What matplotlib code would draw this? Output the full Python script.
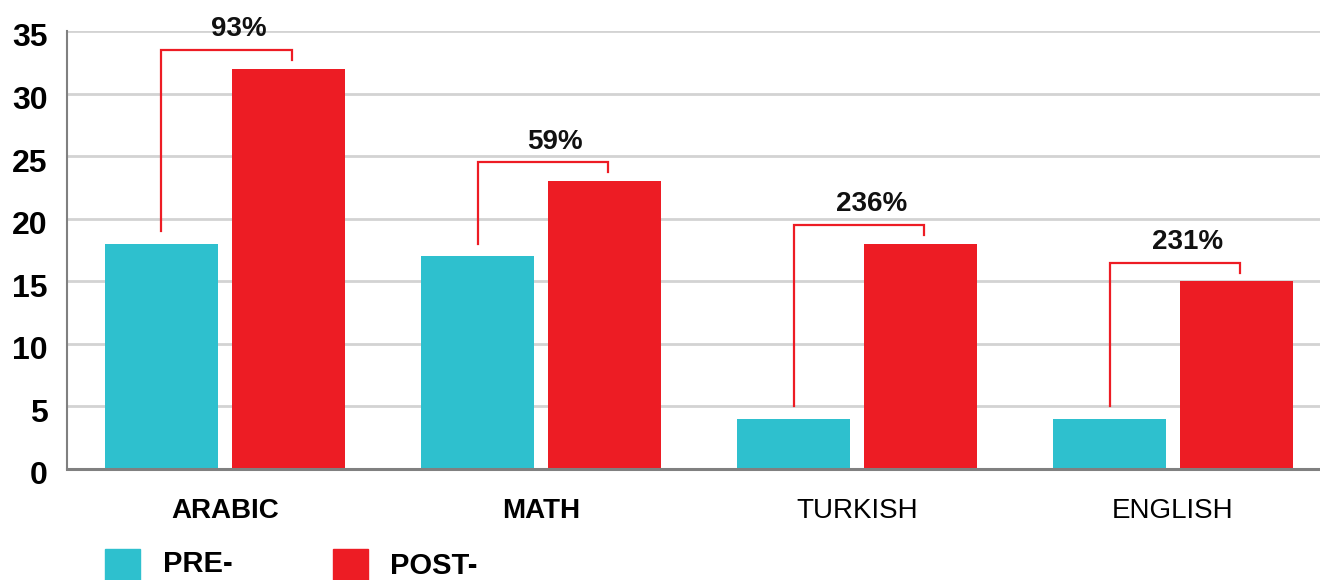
import matplotlib
matplotlib.use("Agg")
import matplotlib.pyplot as plt
import matplotlib.transforms as mtransforms
from matplotlib.patches import Rectangle

categories = ["ARABIC", "MATH", "TURKISH", "ENGLISH"]
bold_categories = [True, True, False, False]
pre_values = [18, 17, 4, 4]
post_values = [32, 23, 18, 15]
change_labels = ["93%", "59%", "236%", "231%"]
y_ticks = [0, 5, 10, 15, 20, 25, 30, 35]
legend_labels = ["PRE-", "POST-"]

CYAN = "#2EC0CE"
RED = "#ED1C24"
GRID = "#D3D3D3"
SPINE = "#808080"

plt.rcParams['font.family'] = ['Liberation Sans', 'DejaVu Sans']

fig = plt.figure(figsize=(13.2, 5.8), dpi=100)
ax = fig.add_axes([67/1320, 111/580, 1 - 67/1320, 438/580])

x = list(range(len(categories)))
w = 0.358
off = 0.201
ax.bar([i - off for i in x], pre_values, width=w, color=CYAN, zorder=3)
ax.bar([i + off for i in x], post_values, width=w, color=RED, zorder=3)

for i in x:
    top = post_values[i] + 1.5
    xl = i - off
    xr = i + off + 0.01
    ax.plot([xl, xl, xr, xr], [pre_values[i] + 1.0, top, top, post_values[i] + 0.7],
            color=RED, lw=1.6, clip_on=False, zorder=4, solid_joinstyle='miter')
    ax.text(i + 0.045, top + 1.65, change_labels[i], ha='center', va='center',
            fontsize=20, fontweight='bold', color='#111111', clip_on=False)

ax.set_xlim(-0.5, 3.465)
ax.set_ylim(0, 35)
ax.set_yticks(y_ticks)
ax.set_yticklabels([str(t) for t in y_ticks], fontsize=23, fontweight='bold')
ax.set_xticks(x)
ax.set_xticklabels(categories, fontsize=20)
for lab, b in zip(ax.get_xticklabels(), bold_categories):
    lab.set_fontweight('bold' if b else 'normal')
ax.tick_params(axis='x', length=0, pad=21)
ax.tick_params(axis='y', length=0, pad=14)
shift = mtransforms.ScaledTranslation(0, -4/100, fig.dpi_scale_trans)
for lab in ax.get_yticklabels():
    lab.set_transform(lab.get_transform() + shift)

ax.grid(axis='y', color=GRID, lw=2, zorder=0)
ax.set_axisbelow(True)
for s in ['top', 'right']:
    ax.spines[s].set_visible(False)
ax.spines['left'].set_color(SPINE)
ax.spines['left'].set_linewidth(1.5)
ax.spines['bottom'].set_color(SPINE)
ax.spines['bottom'].set_linewidth(2.2)
ax.spines['bottom'].set_zorder(5)

# legend
fig.patches.append(Rectangle((105/1320, 0), 35/1320, 31/580, transform=fig.transFigure,
                             color=CYAN, figure=fig))
fig.patches.append(Rectangle((333/1320, 0), 35/1320, 31/580, transform=fig.transFigure,
                             color=RED, figure=fig))
fig.text(163/1320, 1 - 564/580, legend_labels[0], fontsize=21, fontweight='bold', va='center')
fig.text(390/1320, 1 - 566/580, legend_labels[1], fontsize=21, fontweight='bold', va='center')

fig.savefig("out.png", dpi=100)
